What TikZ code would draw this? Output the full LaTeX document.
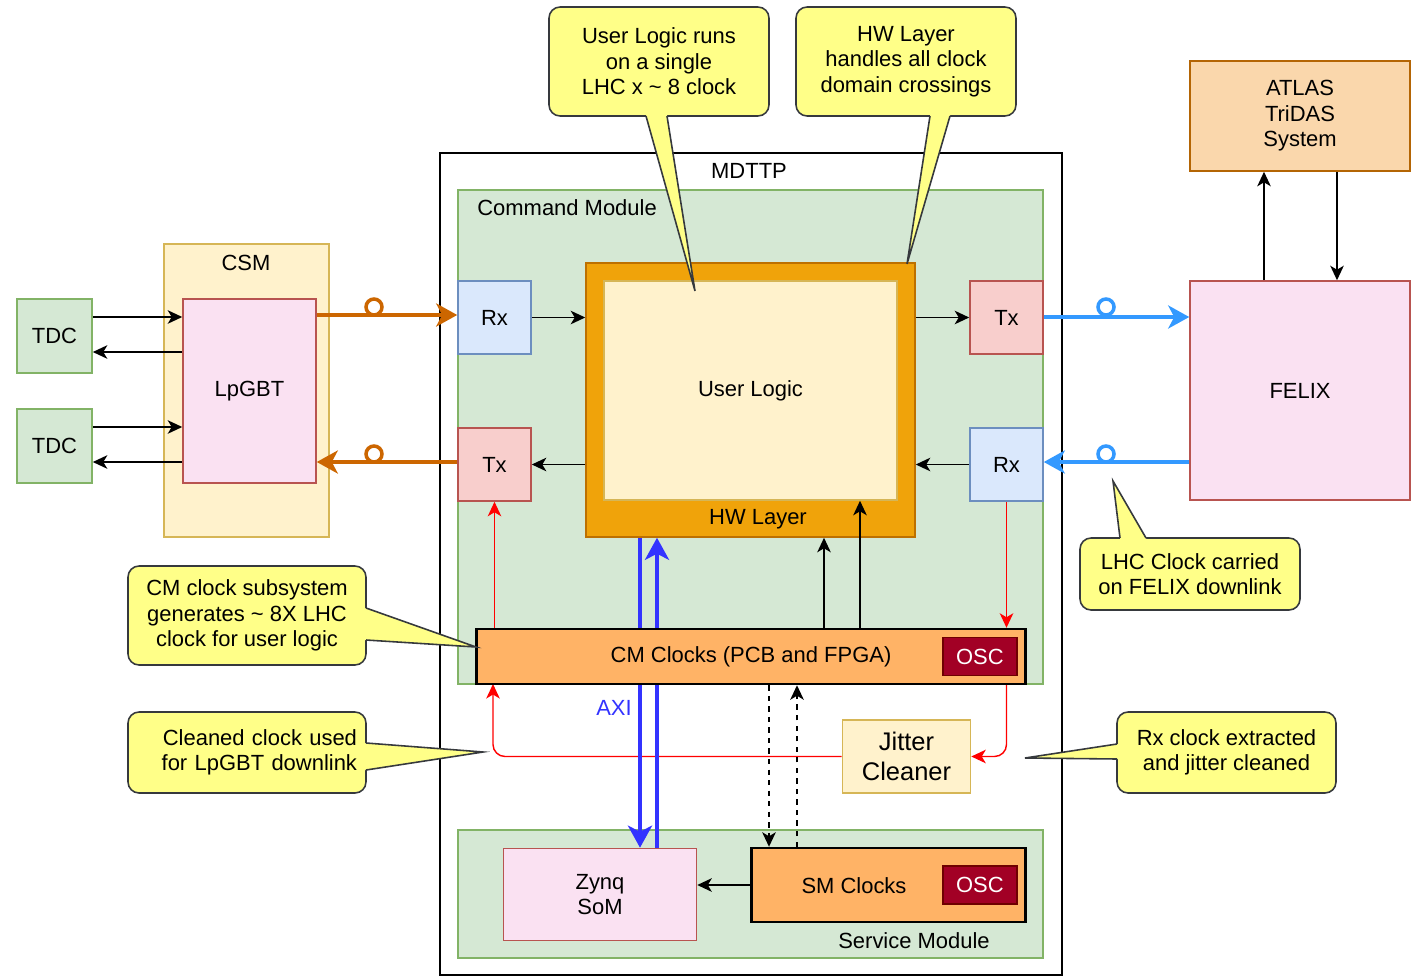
\documentclass[tikz,border=0pt]{standalone}
\usepackage{fontspec}
\setmainfont{Liberation Sans}
\usepackage{xcolor}
\usepackage{tikz}
\usetikzlibrary{shapes,arrows.meta,positioning,calc}

\definecolor{modfill}{HTML}{D5E8D4}
\definecolor{modline}{HTML}{82B366}
\definecolor{csmfill}{HTML}{FFF2CC}
\definecolor{csmline}{HTML}{D6B656}
\definecolor{pinkfill}{HTML}{FAE1F2}
\definecolor{pinkline}{HTML}{B85450}
\definecolor{rxfill}{HTML}{DAE8FC}
\definecolor{rxline}{HTML}{6C8EBF}
\definecolor{txfill}{HTML}{F8CECC}
\definecolor{txline}{HTML}{B85450}
\definecolor{hwfill}{HTML}{F0A30A}
\definecolor{hwline}{HTML}{BD7000}
\definecolor{atlasfill}{HTML}{FAD7AC}
\definecolor{atlasline}{HTML}{B46504}
\definecolor{clkfill}{HTML}{FFB366}
\definecolor{oscfill}{HTML}{A20025}
\definecolor{oscline}{HTML}{6F0000}
\definecolor{notefill}{HTML}{FFFF88}
\definecolor{noteline}{HTML}{36393D}
\definecolor{linkorange}{HTML}{CC6600}
\definecolor{linkblue}{HTML}{3399FF}
\definecolor{axiblue}{HTML}{3333FF}
\definecolor{clkred}{HTML}{FF0000}

\begin{document}
\begin{tikzpicture}[x=0.02cm, y=-0.02cm,
  font=\fontsize{12.5}{14.5}\selectfont,
  box/.style={draw, rectangle, line width=0.9pt, inner sep=0pt, align=center},
  module/.style={box, fill=modfill, draw=modline},
  tdc/.style={module, minimum width=1.5cm, minimum height=1.48cm},
  pinkbox/.style={box, fill=pinkfill, draw=pinkline},
  rxbox/.style={box, fill=rxfill, draw=rxline, minimum size=1.46cm},
  txbox/.style={box, fill=txfill, draw=txline, minimum size=1.46cm},
  clk/.style={box, fill=clkfill, draw=black, line width=1.4pt},
  osc/.style={box, fill=oscfill, draw=oscline, text=white, minimum width=1.48cm, minimum height=0.76cm},
  lbl/.style={inner sep=0pt},
  ring/.style={circle, draw, fill=white, line width=2pt, minimum size=0.32cm, inner sep=0pt},
  ptr/.style={->, >={Stealth[length=0.29cm, width=0.27cm, inset=0.08cm]}, line width=1.1pt},
  clkptr/.style={ptr, draw=clkred, line width=0.8pt},
  olink/.style={->, >={Stealth[length=0.42cm, width=0.46cm, inset=0.12cm]}, draw=linkorange, line width=2.2pt},
  blink/.style={olink, draw=linkblue},
  axi/.style={->, >={Stealth[length=0.44cm, width=0.48cm, inset=0.12cm]}, draw=axiblue, line width=2.8pt},
  note/.style={draw=noteline, fill=notefill, line width=0.9pt, rounded corners=0.22cm, align=center, inner sep=0pt},
  tail/.style={draw=noteline, line width=0.9pt}
]
\useasboundingbox (0,0) rectangle (1416,977);

% frames
\node[box, fill=white, draw=black, line width=1.2pt, minimum width=12.44cm, minimum height=16.44cm] (mdttp) at (751,564) {};
\node[lbl] (mdttptxt) at (749,171) {MDTTP};
\node[module, minimum width=11.7cm, minimum height=9.88cm] (cm) at (750.5,437) {};
\node[lbl, anchor=west] (cmtxt) at (477,208) {Command Module};
\node[module, minimum width=11.7cm, minimum height=2.56cm] (sm) at (750.5,894) {};
\node[lbl] (smtxt) at (914,941) {Service Module};

% CSM side
\node[box, fill=csmfill, draw=csmline, minimum width=3.3cm, minimum height=5.86cm] (csm) at (246.5,390.5) {};
\node[lbl] (csmtxt) at (246,263) {CSM};
\node[pinkbox, minimum width=2.66cm, minimum height=3.68cm] (lpgbt) at (249.5,391) {LpGBT};
\node[tdc] (tdcA) at (54.5,336) {TDC};
\node[tdc] (tdcB) at (54.5,446) {TDC};

% command module blocks
\node[rxbox] (rxL) at (494.5,317.5) {Rx};
\node[txbox] (txL) at (494.5,464.5) {Tx};
\node[txbox] (txR) at (1006.5,317.5) {Tx};
\node[rxbox] (rxR) at (1006.5,464.5) {Rx};
\node[box, fill=hwfill, draw=hwline, minimum width=6.58cm, minimum height=5.48cm] (hw) at (750.5,400) {};
\node[box, fill=csmfill, draw=csmline, minimum width=5.86cm, minimum height=4.38cm] (ul) at (750.5,390.5) {User Logic};
\node[lbl] (hwtxt) at (758,519) {HW Layer};

% FELIX side
\node[pinkbox, minimum width=4.4cm, minimum height=4.38cm] (felix) at (1300,390.5) {FELIX};
\node[box, fill=atlasfill, draw=atlasline, minimum width=4.4cm, minimum height=2.2cm] (atlas) at (1300,116) {ATLAS\\TriDAS\\System};

% clocks and service module
\node[box, fill=csmfill, draw=csmline, minimum width=2.56cm, minimum height=1.46cm, font=\fontsize{14.5}{17}\selectfont] (jitter) at (906.5,756.5) {Jitter\\Cleaner};
\node[pinkbox, minimum width=3.86cm, minimum height=1.84cm] (zynq) at (600,894.5) {Zynq\\SoM};
\node[clk, minimum width=5.48cm, minimum height=1.48cm] (smclk) at (888.5,885) {};
\node[lbl] (smclktxt) at (854,886) {SM Clocks};
\node[osc, left=0.18cm of smclk.east] (oscB) {OSC};

\draw[clkptr, rounded corners=0.24cm] (jitter.west) -| (493,684);
\draw[axi] (640,0 |- hw.south) -- (640,0 |- zynq.north);
\draw[axi] (657,0 |- zynq.north) -- (657,0 |- hw.south);
\node[lbl, text=axiblue] (axitxt) at (614,708) {AXI};

\node[clk, minimum width=10.98cm, minimum height=1.1cm] (cmclk) at (751,656.5) {CM Clocks (PCB and FPGA)};
\node[osc, left=0.18cm of cmclk.east] (oscA) {OSC};
\draw[clkptr, rounded corners=0.24cm] (rxR.south |- cmclk.south) |- (jitter.east);

% TDC links
\draw[ptr] (tdcA.east |- 0,317) -- (lpgbt.west |- 0,317);
\draw[ptr] (lpgbt.west |- 0,352) -- (tdcA.east |- 0,352);
\draw[ptr] (tdcB.east |- 0,427) -- (lpgbt.west |- 0,427);
\draw[ptr] (lpgbt.west |- 0,462) -- (tdcB.east |- 0,462);

% optical links
\draw[olink] (lpgbt.east |- 0,315) -- (rxL.west |- 0,315);
\node[ring, draw=linkorange] (ringA) at (374,307) {};
\draw[olink] (txL.west |- 0,462) -- (lpgbt.east |- 0,462);
\node[ring, draw=linkorange] (ringB) at (374,454) {};
\draw[blink] (txR.east |- 0,317) -- (felix.west |- 0,317);
\node[ring, draw=linkblue] (ringC) at (1106,307) {};
\draw[blink] (felix.west |- 0,462) -- (rxR.east |- 0,462);
\node[ring, draw=linkblue] (ringD) at (1106,454) {};

% data paths
\draw[ptr] (rxL.east) -- (hw.west |- rxL.east);
\draw[ptr] (hw.west |- txL.west) -- (txL.east);
\draw[ptr] (hw.east |- txR.west) -- (txR.west);
\draw[ptr] (rxR.west) -- (hw.east |- rxR.west);
\draw[ptr] ($(felix.north)+(-36,0)$) -- ($(atlas.south)+(-36,0)$);
\draw[ptr] ($(atlas.south)+(37,0)$) -- ($(felix.north)+(37,0)$);

% clock paths
\draw[clkptr] (txL.south |- cmclk.north) -- (txL.south);
\draw[clkptr] (rxR.south) -- (rxR.south |- cmclk.north);
\draw[ptr] (824,0 |- cmclk.north) -- (824,0 |- hw.south);
\draw[ptr] (860,0 |- cmclk.north) -- (860,0 |- ul.south);
\draw[ptr, dashed] (769,0 |- cmclk.south) -- (769,0 |- smclk.north);
\draw[ptr, dashed] (797,0 |- smclk.north) -- (797,0 |- cmclk.south);
\draw[ptr] (smclk.west) -- (zynq.east |- smclk.west);

% callouts
\node[note, minimum width=4.4cm, minimum height=2.18cm] (note1) at (659,61.5) {User Logic runs\\on a single\\LHC x \textasciitilde{} 8 clock};
\fill[notefill] (646,112) -- (646,116) -- (695,291) -- (667,116) -- (667,112) -- cycle;
\draw[tail] (646,116) -- (695,291) -- (667,116);
\node[note, minimum width=4.4cm, minimum height=2.18cm] (note2) at (906,61.5) {HW Layer\\handles all clock\\domain crossings};
\fill[notefill] (930,112) -- (930,116) -- (907,264) -- (950,116) -- (950,112) -- cycle;
\draw[tail] (930,116) -- (907,264) -- (950,116);
\node[note, minimum width=4.4cm, minimum height=1.44cm] (note3) at (1190,574) {LHC Clock carried\\on FELIX downlink};
\fill[notefill] (1120,542) -- (1120,538) -- (1113,481) -- (1146,538) -- (1146,542) -- cycle;
\draw[tail] (1120,538) -- (1113,481) -- (1146,538);
\node[note, minimum width=4.76cm, minimum height=1.98cm] (note4) at (247,615.5) {CM clock subsystem\\generates \textasciitilde{} 8X LHC\\clock for user logic};
\fill[notefill] (362,608) -- (366,608) -- (476,647) -- (366,640) -- (362,640) -- cycle;
\draw[tail] (366,608) -- (476,647) -- (366,640);
\node[note, minimum width=4.76cm, minimum height=1.62cm, text width=4.4cm, align=right] (note5) at (247,752.5) {Cleaned clock used\\for LpGBT downlink};
\fill[notefill] (362,743) -- (366,743) -- (483,752) -- (366,770) -- (362,770) -- cycle;
\draw[tail] (366,743) -- (483,752) -- (366,770);
\node[note, minimum width=4.38cm, minimum height=1.62cm] (note6) at (1226.5,752.5) {Rx clock extracted\\and jitter cleaned};
\fill[notefill] (1121,744) -- (1117,744) -- (1025,758) -- (1117,759) -- (1121,759) -- cycle;
\draw[tail] (1117,744) -- (1025,758) -- (1117,759);
\end{tikzpicture}
\end{document}
